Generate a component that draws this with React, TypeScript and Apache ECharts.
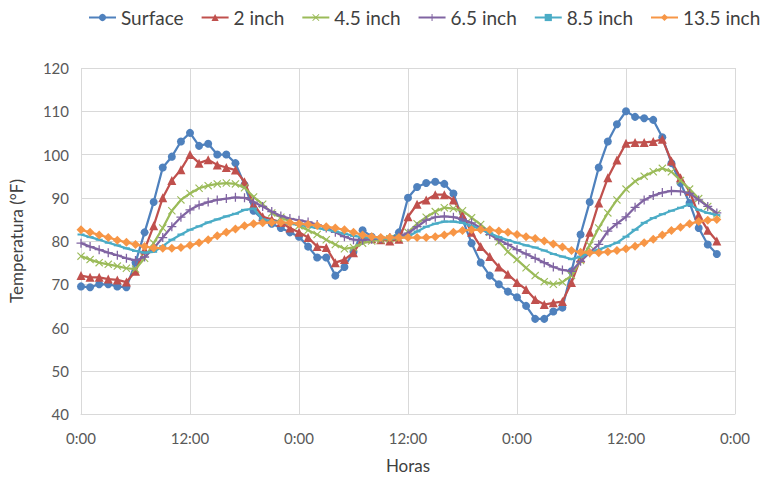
import React, { useEffect, useRef } from "react";
import * as echarts from "echarts";

const hours: number[] = Array.from({ length: 71 }, (_, i) => i);

const surface = [
  69.5, 69.3, 70, 70, 69.5, 69.3, 75, 82, 89, 97, 99.5, 103,
  105, 102, 102.5, 100, 100, 98, 93, 87, 85, 84, 83, 82,
  81, 78.7, 76.2, 76.2, 72, 74, 77.5, 82.5, 81, 80.5, 80.5, 82,
  90, 92.5, 93.4, 93.7, 93.2, 91, 85, 79.5, 75, 72, 70, 68.3,
  67, 65, 62, 62, 63.7, 64.6, 73, 81.5, 89, 97, 103, 107,
  110, 108.7, 108.4, 108, 104, 98, 93.4, 88.8, 83, 79.2, 77,
];
const inch2 = [
  72, 71.6, 71.6, 71.2, 71, 70.5, 73, 78, 83.5, 90, 94, 96.5,
  100, 98, 98.8, 97.6, 97, 96.4, 93.7, 88.5, 85.6, 85, 84.3, 83,
  82, 80.8, 78.7, 78.5, 75, 75.7, 77.3, 80.5, 80.5, 80.3, 80, 80.4,
  85.6, 88.5, 89.5, 90.7, 90.7, 89.5, 86, 82, 78.7, 76.4, 74, 72.3,
  70.4, 68.8, 66.5, 65.3, 65.7, 66, 70.4, 76, 82, 88.8, 94.6, 98.7,
  102.6, 102.8, 102.8, 103, 103.5, 98.5, 94.6, 91.5, 86, 82.5, 80,
];
const inch45 = [
  76.5, 75.7, 75, 74.6, 74.2, 73.7, 73.5, 76, 79.5, 83, 87, 89.5,
  91, 92.2, 92.8, 93.2, 93.4, 93.2, 92.3, 90.2, 88.5, 86.5, 85.5, 84.5,
  83.5, 82.5, 81.5, 80.3, 79.2, 78.2, 78.5, 79.5, 80, 80.3, 80.5, 80.7,
  82, 84, 85.5, 86.8, 87.7, 87.5, 87, 85.4, 83.8, 82, 79.8, 77.5,
  75.7, 73.8, 72, 70.6, 70, 70.5, 72, 75.5, 79, 83, 86.5, 89.5,
  92, 93.8, 95, 96, 96.8, 96, 94, 92, 89.8, 88, 86.3,
];
const inch65 = [
  79.5, 78.7, 78, 77.3, 76.7, 76, 75.5, 76.3, 78.3, 80.8, 83.3, 85.5,
  87.2, 88.3, 89, 89.5, 89.8, 90.1, 90, 89, 88, 86.8, 85.8, 85.2,
  84.8, 84.4, 83.8, 83, 82, 81, 80.3, 80.2, 80.4, 80.6, 80.8, 81,
  81.8, 83.3, 84.8, 85.5, 85.7, 85.5, 85, 84.2, 83, 81.5, 80.3, 79.2,
  78, 77, 76, 75, 74, 73.3, 73, 75.3, 77.3, 79.2, 82.3, 84,
  85.6, 87.8, 89.5, 90.5, 91.2, 91.6, 91.5, 91, 89.5, 88, 86.5,
];
const inch85 = [
  81.5, 80.9, 80.3, 79.6, 79, 78.3, 77.7, 77.3, 77.5, 78.8, 80.3, 81.5,
  82.6, 83.4, 84.3, 85, 85.7, 86.3, 87.2, 87.5, 85, 84.6, 84.3, 84,
  83.7, 83.4, 83, 82.6, 82.2, 81.7, 81.2, 80.9, 80.7, 80.6, 80.6, 80.7,
  81, 82.2, 83.3, 84, 84.5, 84.5, 84.2, 83.5, 82.7, 81.8, 80.9, 80.2,
  79.6, 79, 78.5, 77.8, 77, 76.4, 75.8, 76.4, 77.2, 78, 78.8, 79.6,
  81, 82.6, 84.2, 85.3, 86.2, 87, 87.7, 88.5, 87.2, 86.5, 86,
];
const inch135 = [
  82.6, 82, 81.4, 80.8, 80.2, 79.7, 79.2, 78.7, 78.4, 78.3, 78.3, 78.5,
  79, 79.6, 80.3, 81.2, 82, 82.8, 83.5, 84, 84.2, 84.3, 84.3, 84.2,
  84, 83.8, 83.6, 83.3, 83, 82.6, 82, 81.4, 81, 80.8, 80.8, 80.8,
  80.8, 80.8, 80.8, 81, 81.4, 82, 82.4, 82.6, 82.6, 82.6, 82.3, 82,
  81.5, 81, 80.6, 80, 79.3, 78.6, 77.8, 77.4, 77.3, 77.3, 77.5, 77.8,
  78.2, 78.8, 79.6, 80.4, 81.4, 82.4, 83.2, 84, 84.5, 84.8, 85,
];

const seriesNames = ["Surface", "2 inch", "4.5 inch", "6.5 inch", "8.5 inch", "13.5 inch"];
const seriesData = [surface, inch2, inch45, inch65, inch85, inch135];
const colors = ["#4F81BD", "#C0504D", "#9BBB59", "#8064A2", "#4BACC6", "#F79646"];
const symbols = [
  "circle",
  "triangle",
  "path://M0,1L1,0L5,4L9,0L10,1L6,5L10,9L9,10L5,6L1,10L0,9L4,5Z",
  "path://M4.3,0H5.7V4.3H10V5.7H5.7V10H4.3V5.7H0V4.3H4.3Z",
  "path://M0,4H10V6H0Z",
  "diamond",
];
const symbolSizes: any[] = [8, 9, 8, 9, [7, 2], 9];

const xTicks = { min: 0, max: 72, interval: 12 };
const yTicks = { min: 40, max: 120, interval: 10 };

const FONT = "Lato, 'Open Sans', sans-serif";

export default function App() {
  const ref = useRef<HTMLDivElement>(null);
  useEffect(() => {
    if (!ref.current) return;
    const chart = echarts.init(ref.current, undefined, { renderer: "svg" });
    chart.setOption({
      animation: false,
      textStyle: { fontFamily: FONT },
      color: colors,
      legend: {
        top: 8,
        left: 88,
        width: 700,
        padding: 0,
        itemWidth: 27,
        itemHeight: 9,
        itemGap: 17,
        textStyle: { fontFamily: FONT, fontSize: 19, color: "#404040" },
        data: seriesNames,
      },
      grid: { left: 80, right: 30, top: 68, bottom: 64 },
      xAxis: {
        type: "value",
        min: xTicks.min,
        max: xTicks.max,
        interval: xTicks.interval,
        name: "Horas",
        nameLocation: "middle",
        nameGap: 43,
        nameTextStyle: { fontFamily: FONT, fontSize: 17, color: "#404040" },
        axisLine: { show: true, lineStyle: { color: "#D9D9D9" } },
        axisTick: { show: false },
        axisLabel: {
          margin: 16,
          fontSize: 15,
          color: "#595959",
          fontFamily: FONT,
          formatter: (v: number) => (v % 24 === 0 ? "0:00" : "12:00"),
        },
        splitLine: { show: true, lineStyle: { color: "#D9D9D9" } },
      },
      yAxis: {
        type: "value",
        min: yTicks.min,
        max: yTicks.max,
        interval: yTicks.interval,
        name: "Temperatura (°F)",
        nameLocation: "middle",
        nameGap: 56,
        nameTextStyle: { fontFamily: FONT, fontSize: 17, color: "#404040" },
        axisLine: { show: false },
        axisTick: { show: false },
        axisLabel: { margin: 12, fontSize: 15, color: "#595959", fontFamily: FONT },
        splitLine: { show: true, lineStyle: { color: "#D9D9D9" } },
      },
      series: seriesNames.map((name, i) => ({
        name,
        type: "line",
        data: hours.map((h) => [h, seriesData[i][h]]),
        symbol: symbols[i],
        symbolSize: symbolSizes[i],
        showAllSymbol: true,
        lineStyle: { width: 2.25, color: colors[i] },
        itemStyle: { color: colors[i], borderColor: colors[i], borderWidth: 0 },
        z: 2 + i,
      })),
    });
    return () => chart.dispose();
  }, []);
  return (
    <div
      ref={ref}
      style={{ position: "absolute", left: 0, top: 0, width: 765, height: 479 }}
    />
  );
}
